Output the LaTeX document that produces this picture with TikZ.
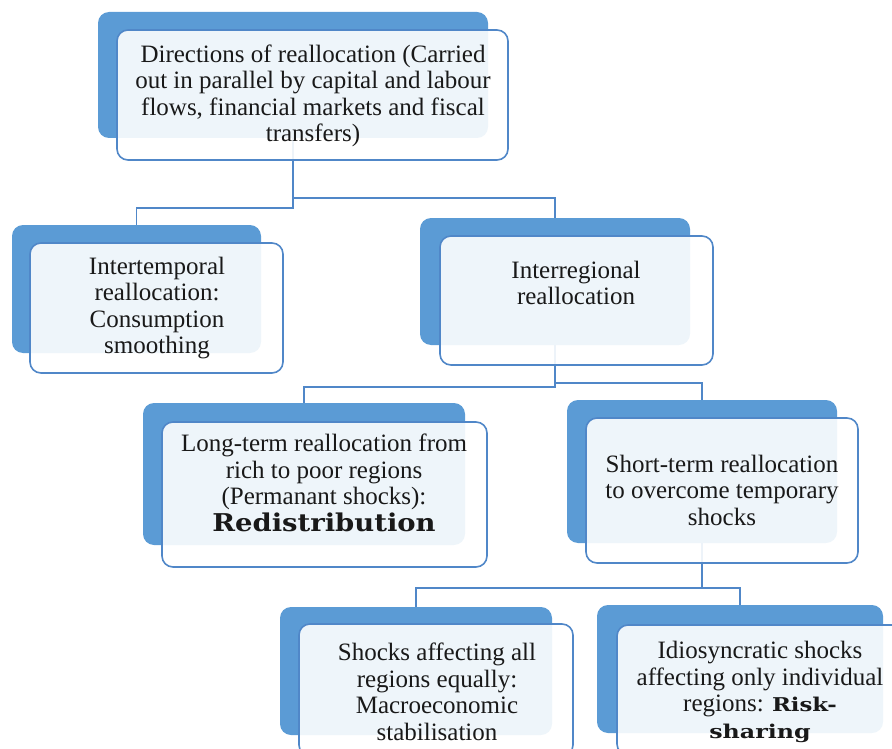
\documentclass[tikz,border=0pt]{standalone}
\usepackage{fontspec}
\setmainfont{Liberation Serif}
\newfontfamily\rboldfam{DejaVu Serif}
\usetikzlibrary{backgrounds}
\newcommand{\rb}[3]{\scalebox{#2}[1]{\rboldfam\bfseries\fontsize{#1}{26}\selectfont #3}}
\definecolor{backblue}{RGB}{91,155,213}
\definecolor{lineblue}{RGB}{80,135,200}
\definecolor{txt}{RGB}{25,25,25}
\tikzset{
  backbox/.style={rectangle, rounded corners=11pt, fill=backblue, draw=none, inner sep=0pt},
  frontbox/.style={rectangle, rounded corners=11pt, fill=white, fill opacity=0.9, draw=lineblue, draw opacity=1, line width=1.6pt, inner sep=0pt},
  label/.style={align=center, text=txt, inner sep=0pt, font=\fontsize{25}{26.5}\selectfont},
  conn/.style={draw=lineblue, line width=1.8pt}
}
\begin{document}
\begin{tikzpicture}[x=1pt,y=-1pt]
\useasboundingbox (0,0) rectangle (892,749);
\clip (0,0) rectangle (892,749);
% back boxes
\node[backbox, minimum width=390pt, minimum height=126pt] (b1) at (293,75) {};
\node[backbox, minimum width=249pt, minimum height=128pt] (b2) at (136.5,289) {};
\node[backbox, minimum width=270pt, minimum height=127pt] (b3) at (555,281.5) {};
\node[backbox, minimum width=322pt, minimum height=142pt] (b4) at (304,474) {};
\node[backbox, minimum width=270pt, minimum height=143pt] (b5) at (702,471.5) {};
\node[backbox, minimum width=272pt, minimum height=128pt] (b6) at (416,671) {};
\node[backbox, minimum width=286pt, minimum height=128pt] (b7) at (740,669) {};
% connectors (behind)
\begin{scope}[on background layer]
\draw[conn] (b1.south) -- (b1.south |- 0,198) -| (b3.north);
\draw[conn] (b1.south |- 0,197) -- (b1.south |- 0,208) -| (b2.north);
\draw[conn] (b3.south) -- (b3.south |- 0,383) -| (b5.north);
\draw[conn] (b3.south |- 0,382) -- (b3.south |- 0,387) -| (b4.north);
\draw[conn] (b5.south) -- (b5.south |- 0,588) -| (b6.north);
\draw[conn] (b5.south |- 0,588) -| (b7.north);
\end{scope}
% front boxes
\node[frontbox, minimum width=391pt, minimum height=130pt] (f1) at (312.5,95) {};
\node[frontbox, minimum width=253pt, minimum height=130pt] (f2) at (156.5,308) {};
\node[frontbox, minimum width=273pt, minimum height=129pt] (f3) at (576.5,300.5) {};
\node[frontbox, minimum width=325pt, minimum height=145pt] (f4) at (324.5,494.5) {};
\node[frontbox, minimum width=272pt, minimum height=145pt] (f5) at (722,490.5) {};
\node[frontbox, minimum width=274pt, minimum height=132pt] (f6) at (436,690) {};
\node[frontbox, minimum width=288pt, minimum height=130pt] (f7) at (761,690) {};
% texts
\node[label] (t1) at (313,96) {Directions of reallocation (Carried\\out in parallel by capital and labour\\flows, financial markets and fiscal\\transfers)};
\node[label] (t2) at (157,308) {Intertemporal\\reallocation:\\Consumption\\smoothing};
\node[label] (t3) at (576,283) {Interregional\\reallocation};
\node[label] (t4) at (324,483) {Long-term reallocation from\\rich to poor regions\\(Permanant shocks):\\\rb{24.5}{1.12}{Redistribution}};
\node[label] (t5) at (722,490) {Short-term reallocation\\to overcome temporary\\shocks};
\node[label] (t6) at (437,692) {Shocks affecting all\\regions equally:\\Macroeconomic\\stabilisation};
\node[label] (t7) at (760,692) {Idiosyncratic shocks\\affecting only individual\\regions: \rb{19}{1.2}{Risk-}\\\rb{19}{1.25}{sharing}};
\end{tikzpicture}
\end{document}
